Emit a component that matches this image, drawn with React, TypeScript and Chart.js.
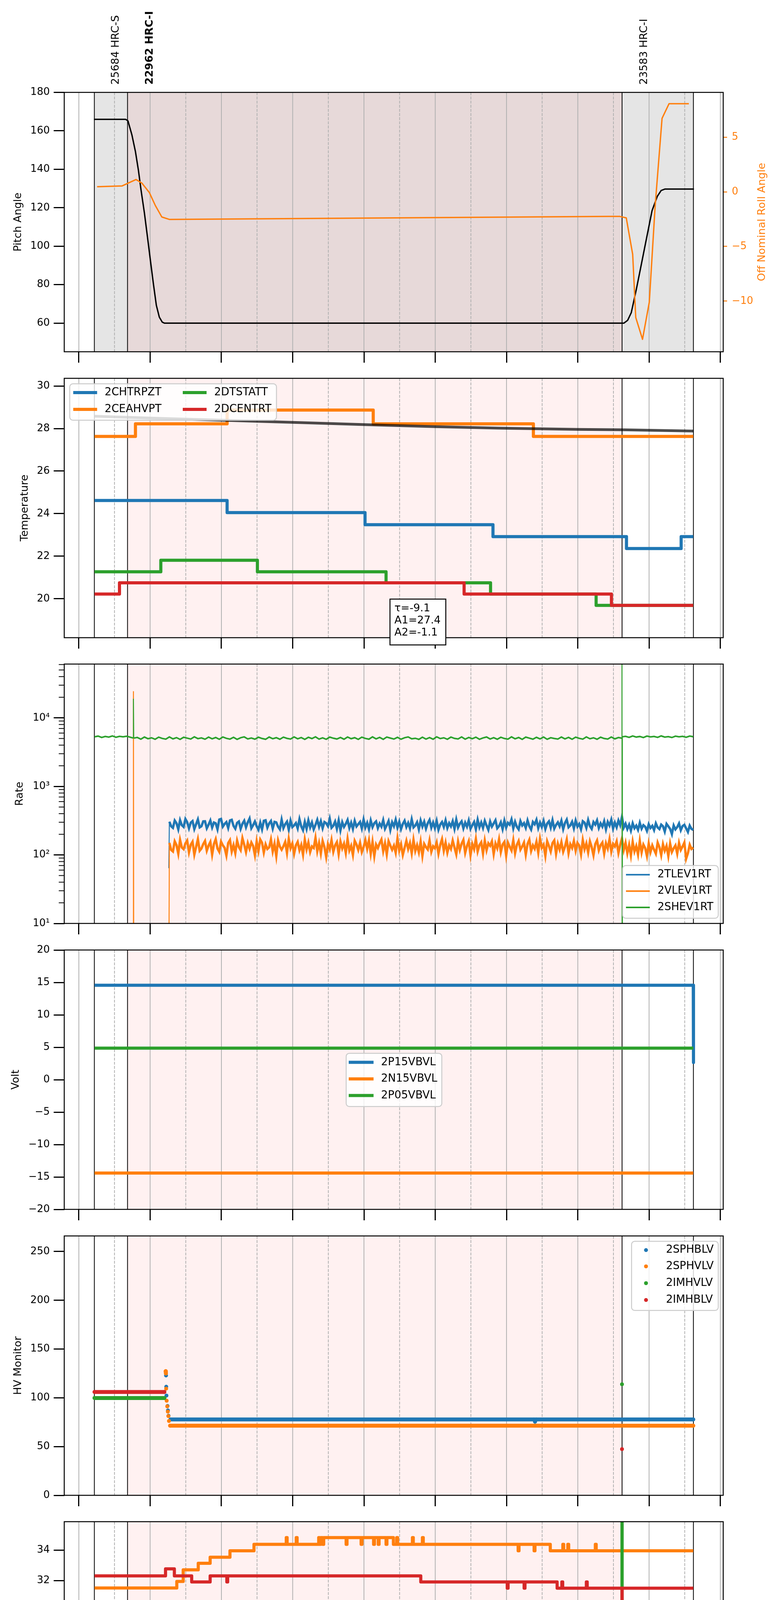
import React, { useEffect, useRef } from 'react';
import { Chart, registerables } from 'chart.js';

Chart.register(...registerables);

type Pt = [number, number | null];

const FONT = "'DejaVu Sans', sans-serif";
const C_BLUE = '#1f77b4';
const C_ORANGE = '#ff7f0e';
const C_GREEN = '#2ca02c';
const C_RED = '#d62728';

// ---------------- time axis (hours of 2021-08-17) ----------------
const X_MIN = 12.795;
const X_MAX = 22.04;
const HOUR_TICKS = [13, 14, 15, 16, 17, 18, 19, 20, 21, 22];
const HALF_TICKS = [13.5, 14.5, 15.5, 16.5, 17.5, 18.5, 19.5, 20.5, 21.5];
const HALF_LABEL = '30';
const X_TITLE = '2021-08-17 (229)';
const EVENT_T = [13.2175, 13.683, 20.621, 21.622];
const OBSID_LABELS = ['25684 HRC-S', '22962 HRC-I', '23583 HRC-I'];
const OBSID_T = [13.522, 13.999, 20.932];

// ---------------- panel 1: pitch / roll ----------------
const PITCH_TICKS = [60, 80, 100, 120, 140, 160, 180];
const ROLL_TICKS = [-10, -5, 0, 5];
const PITCH_ANGLE: Pt[] = [
  [13.212, 166], [13.656, 166], [13.689, 165.2], [13.745, 157.8], [13.794, 149.2], [13.836, 139.4],
  [13.871, 129.6], [13.92, 117.2], [13.962, 105], [14.004, 92.6], [14.046, 80.4], [14.087, 69.3],
  [14.129, 63.1], [14.17, 60.5], [14.199, 60], [20.648, 60], [20.7, 61.5], [20.75, 65.4],
  [20.823, 77.9], [20.896, 91.4], [20.969, 105], [21.042, 118.5], [21.115, 125.9], [21.17, 129],
  [21.22, 129.7], [21.63, 129.7],
];
const ROLL_ANGLE: Pt[] = [
  [13.256, 0.47], [13.605, 0.54], [13.801, 1.13], [13.885, 0.8], [13.99, -0.07], [14.073, -1.25],
  [14.164, -2.3], [14.269, -2.52], [20.43, -2.25], [20.59, -2.25], [20.68, -2.38], [20.77, -5.72],
  [20.813, -11.5], [20.908, -13.5], [21.003, -10.1], [21.085, -1.3], [21.182, 6.73], [21.28, 8.07],
  [21.558, 8.07],
];

// ---------------- panel 2: temperature ----------------
const TEMP_TICKS = [20, 22, 24, 26, 28, 30];
const T_2CHTRPZT: Pt[] = [[13.22, 24.62], [15.08, 24.05], [17.015, 23.48], [18.81, 22.92], [20.683, 22.36], [21.45, 22.92], [21.62, 22.92]];
const T_2CEAHVPT: Pt[] = [[13.22, 27.63], [13.794, 28.22], [15.08, 28.87], [17.13, 28.22], [19.377, 27.63], [21.62, 27.63]];
const T_2DTSTATT: Pt[] = [[13.22, 21.27], [14.15, 21.81], [15.505, 21.27], [17.31, 20.75], [18.776, 20.22], [20.257, 19.69], [21.62, 19.69]];
const T_2DCENTRT: Pt[] = [[13.22, 20.22], [13.57, 20.75], [18.405, 20.22], [20.472, 19.69], [21.62, 19.69]];
const T_FIT: Pt[] = [
  [13.22, 28.58], [14.0, 28.49], [15.0, 28.39], [15.4, 28.35], [16.0, 28.29], [17.14, 28.17],
  [18.0, 28.09], [18.88, 28.02], [20.0, 27.96], [20.63, 27.94], [21.62, 27.88],
];
const FIT_TEXT = ['τ=-9.1', 'A1=27.4', 'A2=-1.1'];

// ---------------- panel 3: rates ----------------
const RATE_TICKS = [10, 100, 1000, 10000];
const RATE_TICK_LABELS = ['10¹', '10²', '10³', '10⁴'];
const RATE_T = [
  14.27, 14.295, 14.32, 14.345, 14.37, 14.395, 14.42, 14.445, 14.47, 14.495, 14.52, 14.545, 14.57, 14.595, 14.62, 14.645, 14.67, 14.695, 14.72, 14.745,
  14.77, 14.795, 14.82, 14.845, 14.87, 14.895, 14.92, 14.945, 14.97, 14.995, 15.02, 15.045, 15.07, 15.095, 15.12, 15.145, 15.17, 15.195, 15.22, 15.245,
  15.27, 15.295, 15.32, 15.345, 15.37, 15.395, 15.42, 15.445, 15.47, 15.495, 15.52, 15.545, 15.57, 15.595, 15.62, 15.645, 15.67, 15.695, 15.72, 15.745,
  15.77, 15.795, 15.82, 15.845, 15.87, 15.895, 15.92, 15.945, 15.97, 15.995, 16.02, 16.045, 16.07, 16.095, 16.12, 16.145, 16.17, 16.195, 16.22, 16.245,
  16.27, 16.295, 16.32, 16.345, 16.37, 16.395, 16.42, 16.445, 16.47, 16.495, 16.52, 16.545, 16.57, 16.595, 16.62, 16.645, 16.67, 16.695, 16.72, 16.745,
  16.77, 16.795, 16.82, 16.845, 16.87, 16.895, 16.92, 16.945, 16.97, 16.995, 17.02, 17.045, 17.07, 17.095, 17.12, 17.145, 17.17, 17.195, 17.22, 17.245,
  17.27, 17.295, 17.32, 17.345, 17.37, 17.395, 17.42, 17.445, 17.47, 17.495, 17.52, 17.545, 17.57, 17.595, 17.62, 17.645, 17.67, 17.695, 17.72, 17.745,
  17.77, 17.795, 17.82, 17.845, 17.87, 17.895, 17.92, 17.945, 17.97, 17.995, 18.02, 18.045, 18.07, 18.095, 18.12, 18.145, 18.17, 18.195, 18.22, 18.245,
  18.27, 18.295, 18.32, 18.345, 18.37, 18.395, 18.42, 18.445, 18.47, 18.495, 18.52, 18.545, 18.57, 18.595, 18.62, 18.645, 18.67, 18.695, 18.72, 18.745,
  18.77, 18.795, 18.82, 18.845, 18.87, 18.895, 18.92, 18.945, 18.97, 18.995, 19.02, 19.045, 19.07, 19.095, 19.12, 19.145, 19.17, 19.195, 19.22, 19.245,
  19.27, 19.295, 19.32, 19.345, 19.37, 19.395, 19.42, 19.445, 19.47, 19.495, 19.52, 19.545, 19.57, 19.595, 19.62, 19.645, 19.67, 19.695, 19.72, 19.745,
  19.77, 19.795, 19.82, 19.845, 19.87, 19.895, 19.92, 19.945, 19.97, 19.995, 20.02, 20.045, 20.07, 20.095, 20.12, 20.145, 20.17, 20.195, 20.22, 20.245,
  20.27, 20.295, 20.32, 20.345, 20.37, 20.395, 20.42, 20.445, 20.47, 20.495, 20.52, 20.545, 20.57, 20.595, 20.62, 20.645, 20.67, 20.695, 20.72, 20.745,
  20.77, 20.795, 20.82, 20.845, 20.87, 20.895, 20.92, 20.945, 20.97, 20.995, 21.02, 21.045, 21.07, 21.095, 21.12, 21.145, 21.17, 21.195, 21.22, 21.245,
  21.27, 21.295, 21.32, 21.345, 21.37, 21.395, 21.42, 21.445, 21.47, 21.495, 21.52, 21.545, 21.57, 21.595, 21.62,
];
const RATE_2TLEV1RT = [
  305, 262, 248, 318, 290, 236, 322, 271, 256, 335, 301, 244, 296, 312, 238, 281, 330, 252, 262, 309,
  310, 244, 276, 318, 251, 297, 289, 236, 328, 335, 259, 284, 302, 247, 319, 326, 265, 241, 294, 308,
  240, 286, 316, 253, 299, 340, 245, 272, 308, 262, 233, 297, 236, 315, 321, 250, 288, 313, 242, 304,
  299, 258, 236, 328, 246, 281, 306, 233, 317, 255, 270, 292, 244, 333, 261, 229, 304, 240, 320, 252,
  298, 236, 275, 326, 257, 311, 245, 302, 290, 262, 338, 249, 267, 307, 241, 319, 228, 301, 256, 284,
  324, 247, 296, 239, 315, 260, 281, 303, 243, 329, 251, 294, 237, 318, 254, 290, 309, 246, 287, 258,
  322, 240, 272, 313, 231, 300, 262, 327, 249, 305, 238, 283, 316, 255, 293, 244, 331, 252, 268, 300,
  236, 318, 259, 306, 242, 290, 325, 250, 297, 245, 314, 233, 278, 302, 256, 320, 247, 291, 261, 311,
  240, 328, 251, 285, 309, 244, 296, 258, 319, 241, 272, 303, 237, 326, 253, 298, 247, 315, 268, 232,
  307, 259, 288, 321, 245, 263, 300, 238, 317, 251, 294, 276, 330, 243, 305, 257, 236, 312, 269, 291,
  248, 319, 262, 234, 303, 280, 326, 246, 297, 255, 314, 239, 287, 309, 250, 322, 242, 274, 299, 261,
  316, 237, 292, 328, 253, 270, 305, 244, 318, 259, 283, 236, 311, 296, 248, 324, 263, 240, 302, 277,
  320, 247, 289, 258, 311, 236, 304, 268, 327, 242, 296, 253, 318, 271, 360, 250, 285, 238, 276, 226,
  290, 245, 268, 232, 295, 241, 272, 258, 224, 281, 247, 266, 230, 289, 252, 238, 277, 262, 219, 284,
  262, 240, 201, 270, 236, 255, 288, 229, 264, 275, 244, 216, 268, 240, 231,
];
const RATE_2VLEV1RT = [
  150, 118, 112, 158, 139, 104, 166, 128, 121, 147, 162, 109, 141, 156, 101, 131, 170, 115, 124, 144,
  160, 115, 137, 155, 101, 144, 170, 124, 111, 156, 138, 127, 98, 149, 165, 112, 139, 106, 162, 130,
  117, 176, 141, 110, 149, 123, 152, 135, 99, 158, 114, 168, 151, 108, 143, 122, 129, 168, 112, 146,
  96, 163, 132, 119, 134, 155, 107, 172, 125, 147, 104, 138, 155, 117, 140, 101, 167, 120, 152, 110,
  133, 126, 178, 113, 149, 105, 160, 131, 93, 144, 121, 165, 111, 138, 154, 103, 157, 124, 146, 107,
  171, 116, 136, 100, 161, 142, 118, 150, 110, 130, 165, 123, 164, 104, 155, 96, 142, 126, 148, 168,
  113, 148, 102, 159, 137, 119, 137, 108, 174, 116, 143, 100, 127, 161, 122, 149, 106, 166, 114, 139,
  109, 156, 97, 145, 130, 120, 163, 111, 134, 125, 152, 104, 140, 170, 115, 151, 108, 138, 122, 162,
  128, 102, 157, 118, 146, 166, 107, 135, 159, 99, 144, 121, 171, 112, 139, 153, 105, 162, 117, 148,
  136, 158, 103, 147, 125, 169, 110, 142, 155, 98, 151, 131, 116, 164, 106, 140, 160, 119, 133, 152,
  101, 145, 167, 114, 138, 123, 156, 108, 172, 127, 141, 97, 159, 135, 112, 149, 163, 104, 146, 120,
  154, 111, 132, 168, 106, 143, 126, 160, 115, 150, 137, 102, 165, 121, 147, 109, 158, 130, 99, 144,
  163, 117, 139, 152, 105, 148, 124, 170, 112, 145, 133, 158, 107, 140, 174, 118, 150, 105, 140, 98,
  156, 112, 135, 101, 161, 108, 142, 126, 96, 147, 110, 138, 119, 104, 152, 130, 99, 144, 115, 136,
  96, 147, 110, 125, 138, 104, 150, 118, 133, 152, 88, 106, 141, 122, 128,
];
const TLEV_LEAD: Pt[] = [[14.262, 64]];
const VLEV_LEAD: Pt[] = [[13.762, 1], [13.766, 24500], [13.77, 1], [14.262, 1]];
const SHEV_T = [
  13.22, 13.27, 13.32, 13.37, 13.42, 13.47, 13.52, 13.57, 13.62, 13.67,
  13.69, 13.762, 13.766, 13.77,
  13.82, 13.87, 13.92, 13.97, 14.02, 14.07, 14.12, 14.17, 14.22, 14.27, 14.32, 14.37, 14.42, 14.47, 14.52, 14.57, 14.62, 14.67, 14.72, 14.77,
  14.82, 14.87, 14.92, 14.97, 15.02, 15.07, 15.12, 15.17, 15.22, 15.27, 15.32, 15.37, 15.42, 15.47, 15.52, 15.57, 15.62, 15.67, 15.72, 15.77,
  15.82, 15.87, 15.92, 15.97, 16.02, 16.07, 16.12, 16.17, 16.22, 16.27, 16.32, 16.37, 16.42, 16.47, 16.52, 16.57, 16.62, 16.67, 16.72, 16.77,
  16.82, 16.87, 16.92, 16.97, 17.02, 17.07, 17.12, 17.17, 17.22, 17.27, 17.32, 17.37, 17.42, 17.47, 17.52, 17.57, 17.62, 17.67, 17.72, 17.77,
  17.82, 17.87, 17.92, 17.97, 18.02, 18.07, 18.12, 18.17, 18.22, 18.27, 18.32, 18.37, 18.42, 18.47, 18.52, 18.57, 18.62, 18.67, 18.72, 18.77,
  18.82, 18.87, 18.92, 18.97, 19.02, 19.07, 19.12, 19.17, 19.22, 19.27, 19.32, 19.37, 19.42, 19.47, 19.52, 19.57, 19.62, 19.67, 19.72, 19.77,
  19.82, 19.87, 19.92, 19.97, 20.02, 20.07, 20.12, 20.17, 20.22, 20.27, 20.32, 20.37, 20.42, 20.47, 20.52, 20.57,
  20.618, 20.62, 20.622, 20.625,
  20.67, 20.72, 20.77, 20.82, 20.87, 20.92, 20.97, 21.02, 21.07, 21.12, 21.17, 21.22, 21.27, 21.32, 21.37, 21.42, 21.47, 21.52, 21.57, 21.62,
];
const RATE_2SHEV1RT = [
  5290, 5420, 5180, 5360, 5240, 5450, 5210, 5380, 5300, 5400,
  5330, 5080, 19000, 5060,
  5180, 4890, 5250, 4960, 5120, 4870, 5230, 5010, 4900, 5270, 4940, 5150, 4860, 5210, 5060, 4910, 5290, 4980, 5100, 4880,
  5240, 4950, 5170, 4870, 5260, 5030, 4900, 5200, 4860, 5130, 5280, 4930, 5080, 4890, 5220, 5000, 4870, 5250, 4960, 5140,
  4880, 5230, 5020, 4910, 5270, 4950, 5160, 4860, 5210, 4990, 5290, 4900, 5110, 4870, 5240, 5050, 4920, 5180, 4880, 5260,
  4970, 5140, 4860, 5230, 5010, 4890, 5280, 4940, 5190, 4870, 5250, 5070, 4910, 5200, 4880, 5130, 5270, 4950, 5040, 4860,
  5220, 4900, 5160, 4880, 5290, 4990, 5120, 4870, 5240, 5020, 4930, 5270, 4890, 5180, 4960, 5230, 4870, 5100, 5260, 4920,
  5150, 4880, 5210, 5000, 4900, 5280, 4950, 5170, 4860, 5240, 5060, 4890, 5200, 4930, 5260, 4870, 5130, 5010, 4910, 5250,
  4940, 5190, 4870, 5230, 5030, 4900, 5270, 4960, 5120, 4880, 5220, 5000, 4910, 5260, 4940, 5170,
  5050, 100000, 1, 5300,
  5380, 5190, 5440, 5250, 5350, 5160, 5420, 5280, 5360, 5200, 5450, 5240, 5330, 5170, 5410, 5290, 5370, 5210, 5430, 5310,
];

// ---------------- panel 4: voltages ----------------
const VOLT_TICKS = [-20, -15, -10, -5, 0, 5, 10, 15, 20];
const V_2P15VBVL: Pt[] = [[13.22, 14.57], [21.62, 14.57], [21.623, 2.65]];
const V_2N15VBVL: Pt[] = [[13.22, -14.4], [21.62, -14.4]];
const V_2P05VBVL: Pt[] = [[13.22, 4.87], [21.62, 4.87]];

// ---------------- panel 5: HV monitor ----------------
const HV_TICKS = [0, 50, 100, 150, 200, 250];
const HV_2SPHBLV: Pt[] = [
  [14.223, 122.9], [14.226, 111.4], [14.229, 102.3], [14.244, 91.6], [14.25, 87], [14.258, 81.6],
  [14.286, 77.8], [19.39, 77.8], [19.4, 75.5], [19.41, 77.8], [21.62, 77.8],
];
const HV_2SPHVLV: Pt[] = [
  [14.218, 127.3], [14.221, 125], [14.225, 109.4], [14.232, 97], [14.24, 91.2], [14.248, 85.8],
  [14.256, 81.2], [14.264, 76.2], [14.28, 71.4], [21.62, 71.4],
];
const HV_2IMHVLV: Pt[] = [[13.22, 99.8], [14.2, 99.8], [14.21, null], [20.62, 113.9]];
const HV_2IMHBLV: Pt[] = [[13.22, 106], [14.2, 106], [14.21, null], [20.62, 47.4]];

// ---------------- panel 6: detector temperatures ----------------
const DET_TICKS = [20, 22, 24, 26, 28, 30, 32, 34];
const DET_2SPINATM: Pt[] = [[13.22, 19.63], [14.374, 20.29], [19.823, 19.63], [21.62, 19.63]];
const DET_2SPHVATM: Pt[] = [
  [13.22, 31.51], [14.374, 31.94], [14.464, 32.71], [14.675, 33.14], [14.842, 33.54], [15.12, 33.96],
  [15.457, 34.39], [15.91, 34.83], [15.922, 34.39], [16.05, 34.83], [16.062, 34.39],
  [16.365, 34.83], [16.38, 34.39], [16.395, 34.83], [16.42, 34.39], [16.435, 34.83],
  [16.75, 34.39], [16.762, 34.83], [16.96, 34.39], [16.972, 34.83], [17.135, 34.39], [17.147, 34.83],
  [17.2, 34.39], [17.212, 34.83], [17.31, 34.39], [17.322, 34.83],
  [17.413, 34.39], [17.46, 34.83], [17.472, 34.39], [17.68, 34.83], [17.692, 34.39], [17.82, 34.83], [17.832, 34.39],
  [19.163, 33.96], [19.175, 34.39], [19.387, 33.96], [19.399, 34.39],
  [19.614, 33.96], [19.79, 34.39], [19.802, 33.96], [19.86, 34.39], [19.872, 33.96], [20.246, 34.39], [20.258, 33.96],
  [21.62, 33.96],
];
const DET_2IMINATM: Pt[] = [
  [13.22, 21.01], [14.78, 21.75], [14.792, 21.01], [15.01, 21.75], [15.022, 21.01], [15.935, 21.75], [15.947, 21.01],
  [18.604, 20.29], [20.618, 20.29], [20.62, 40], [20.622, 20.29], [21.0, 19.63], [21.62, 19.63],
];
const DET_2IMHVATM: Pt[] = [
  [13.22, 32.31], [14.216, 32.77], [14.34, 32.31], [14.583, 31.91], [14.842, 32.31], [15.076, 31.91], [15.088, 32.31],
  [17.797, 31.91], [19.01, 31.5], [19.022, 31.91], [19.247, 31.5], [19.259, 31.91], [19.71, 31.5],
  [19.776, 31.91], [19.788, 31.5], [20.12, 31.91], [20.132, 31.5], [20.618, 31.5], [20.62, 10], [20.622, 31.5],
  [21.62, 31.5],
];

// ---------------- panel 7: FEA temperatures ----------------
const FEA_TICKS = [16, 18, 20, 22, 24, 26];
const FEA_2FHTRMZT: Pt[] = [
  [13.22, 24.05], [13.417, 24.62], [14.43, 24.05], [15.457, 23.46], [16.42, 22.91], [17.448, 22.36],
  [18.531, 21.81], [19.775, 21.27], [21.62, 21.27],
];
const FEA_2FRADPYT: Pt[] = [
  [13.22, 19.68], [13.85, 20.2], [13.92, 19.68], [14.276, 19.17], [14.723, 18.67], [15.376, 18.18],
  [16.19, 17.69], [17.123, 17.2], [18.14, 16.72], [19.286, 16.25], [20.58, 15.77], [20.73, 16.25],
  [20.865, 16.72], [20.94, 17.2], [21.15, 16.72], [21.62, 16.72],
];
const FEA_2FEPRATM: Pt[] = [
  [13.22, 25.39], [13.675, 26.16], [14.545, 25.4], [14.557, 26.16], [14.653, 25.39], [16.26, 24.62],
  [17.818, 23.87], [19.565, 23.13], [20.618, 23.13], [20.62, 25.4], [20.622, 23.13], [21.62, 23.13],
];
const FEA_2FE00ATM: Pt[] = [
  [13.22, 23.63], [13.419, 23.95], [14.446, 23.63], [14.551, 24.33], [14.563, 23.63], [14.796, 22.93],
  [14.808, 23.63], [15.061, 24.66], [15.073, 23.63], [15.224, 22.93], [15.236, 23.32], [15.39, 21.98],
  [15.402, 23.32], [15.474, 22.93], [15.486, 23.32], [15.586, 23.68], [15.598, 23.32], [15.858, 23.02],
  [15.87, 23.32], [15.949, 24.0], [15.962, 22.6], [15.974, 22.98], [16.159, 23.34], [16.171, 22.98],
  [16.473, 22.6], [16.485, 22.98], [16.669, 22.65], [16.857, 21.65], [16.869, 22.65], [17.415, 22.34],
  [17.556, 23.68], [17.568, 22.34], [17.892, 21.35], [17.904, 22.34], [18.095, 21.35], [18.107, 22.34],
  [18.22, 22.02], [18.757, 23.02], [18.769, 22.02], [18.905, 21.04], [18.917, 22.02], [19.079, 21.72],
  [19.219, 22.08], [19.231, 21.04], [19.243, 21.72], [19.673, 21.04], [19.685, 21.72], [19.792, 22.7],
  [19.804, 21.72], [19.897, 21.35], [19.909, 21.72], [19.952, 22.08], [19.964, 21.72], [20.0, 21.38],
  [20.105, 21.77], [20.117, 21.04], [20.129, 21.38], [20.267, 22.08], [20.279, 21.04], [20.291, 21.38],
  [20.618, 21.38], [20.62, 14], [20.622, 21.38], [21.62, 21.38],
];

// ---------------- layout constants ----------------
const AX_H = 664;
const PLOT_LEFT = 164.5;
const PLOT_RIGHT = 1852;
const PAGE_W = 2000;

type LegendEntry = { ds: number; y: number; sx0: number; sx1: number; tx: number };
type LegendCfg = { box: [number, number, number, number]; kind: 'line' | 'dot'; lw: number; entries: LegendEntry[] };
type AxisCfg = {
  type?: 'linear' | 'logarithmic';
  min: number; max: number; ticks: number[]; labels?: string[];
  title: string; titleX: number;
};
type PanelCfg = {
  top: number; canvasTop: number; canvasH: number;
  datasets: any[];
  y: AxisCfg; y2?: AxisCfg;
  grayBand?: boolean; obsids?: boolean; xLabels?: boolean; minorLog?: boolean;
  legend?: LegendCfg;
  fitBox?: boolean;
};

const toXY = (arr: Pt[]) => arr.map(([x, y]) => ({ x, y }));
const zipXY = (ts: number[], vs: number[]) => ts.map((t, i) => ({ x: t, y: vs[i] }));
const fmtNum = (v: number) => (v < 0 ? '\u2212' + Math.abs(v) : String(v));

function lineDs(label: string, color: string, data: any[], extra: any = {}) {
  return {
    label, data, borderColor: color, backgroundColor: color, borderWidth: 8,
    pointRadius: 0, pointHoverRadius: 0, stepped: true, tension: 0, fill: false, clip: 0,
    borderJoinStyle: 'round', borderCapStyle: 'butt', ...extra,
  };
}

function hvDs(label: string, color: string, data: Pt[]) {
  return lineDs(label, color, toXY(data), {
    stepped: false, borderWidth: 10, borderCapStyle: 'round', pointRadius: 5, pointBorderWidth: 0,
    pointBackgroundColor: color, spanGaps: false,
    segment: {
      borderColor: (c: any) => (Math.abs(c.p0.parsed.y - c.p1.parsed.y) > 3 ? 'rgba(0,0,0,0)' : undefined),
    },
  });
}

// noisy rate series: dense noise segments thicker, isolated spikes thin
function rateDs(label: string, color: string, data: any[], noiseW: number) {
  return lineDs(label, color, data, {
    stepped: false, borderWidth: 2.5, borderJoinStyle: 'miter',
    segment: {
      borderWidth: (c: any) => (Math.abs(c.p1.parsed.x - c.p0.parsed.x) < 0.01 ? 2.5 : noiseW),
    },
  });
}

function txt(ctx: CanvasRenderingContext2D, s: string, x: number, y: number, size: number, o: any = {}) {
  ctx.save();
  ctx.font = `${o.bold ? 'bold ' : ''}${size}px ${FONT}`;
  ctx.fillStyle = o.color || '#000';
  ctx.textAlign = o.align || 'left';
  ctx.textBaseline = o.baseline || 'middle';
  ctx.translate(x, y);
  if (o.rot) ctx.rotate(o.rot);
  ctx.fillText(s, 0, 0);
  ctx.restore();
}

function makeDecor(p: PanelCfg) {
  const oy = p.canvasTop;
  return {
    id: 'decor',
    beforeDatasetsDraw(chart: any) {
      const { ctx, chartArea: a } = chart;
      const xs = chart.scales.x;
      const px = (t: number) => xs.getPixelForValue(t);
      const h = a.bottom - a.top;
      ctx.save();
      ctx.beginPath();
      ctx.rect(a.left, a.top, a.right - a.left, h);
      ctx.clip();
      if (p.grayBand) {
        ctx.fillStyle = 'rgba(0,0,0,0.1)';
        ctx.fillRect(px(EVENT_T[0]), a.top, px(EVENT_T[3]) - px(EVENT_T[0]), h);
      }
      ctx.fillStyle = 'rgba(255,0,0,0.055)';
      ctx.fillRect(px(EVENT_T[1]), a.top, px(EVENT_T[2]) - px(EVENT_T[1]), h);
      const vline = (t: number) => {
        const x = px(t);
        ctx.beginPath();
        ctx.moveTo(x, a.top);
        ctx.lineTo(x, a.bottom);
        ctx.stroke();
      };
      ctx.strokeStyle = '#b0b0b0';
      ctx.lineWidth = 2;
      HOUR_TICKS.forEach(vline);
      ctx.setLineDash([7.4, 3.2]);
      HALF_TICKS.forEach(vline);
      ctx.setLineDash([]);
      ctx.strokeStyle = '#000';
      ctx.lineWidth = 2;
      EVENT_T.forEach(vline);
      ctx.restore();
    },
    afterDraw(chart: any) {
      const { ctx, chartArea: a } = chart;
      const xs = chart.scales.x;
      const ys = chart.scales.y;
      ctx.save();
      ctx.strokeStyle = '#000';
      ctx.lineWidth = 2.5;
      ctx.strokeRect(a.left, a.top, a.right - a.left, a.bottom - a.top);
      if (p.minorLog) {
        ctx.lineWidth = 2;
        for (const d of RATE_TICKS) {
          for (let m = 2; m <= 9; m++) {
            const v = m * d;
            if (v > p.y.max) continue;
            const y = ys.getPixelForValue(v);
            ctx.beginPath();
            ctx.moveTo(a.left - 14, y);
            ctx.lineTo(a.left, y);
            ctx.stroke();
          }
        }
      }
      ctx.restore();
      const midY = (a.top + a.bottom) / 2;
      txt(ctx, p.y.title, p.y.titleX, midY, 27, { align: 'center', rot: -Math.PI / 2 });
      if (p.y2) txt(ctx, p.y2.title, p.y2.titleX, midY, 27, { align: 'center', rot: -Math.PI / 2, color: C_ORANGE });
      if (p.obsids) {
        OBSID_LABELS.forEach((s, i) => {
          txt(ctx, s, xs.getPixelForValue(OBSID_T[i]), 216.7 - oy, 27, { rot: -Math.PI / 2, bold: i === 1 });
        });
      }
      if (p.xLabels) {
        HALF_TICKS.forEach((t) => {
          txt(ctx, HALF_LABEL, xs.getPixelForValue(t), 5312 - oy, 18, { align: 'center', baseline: 'alphabetic' });
        });
      }
      if (p.fitBox) {
        ctx.save();
        ctx.fillStyle = '#fff';
        ctx.fillRect(998.7, 1533.7 - oy, 142.9, 117.3);
        ctx.strokeStyle = '#000';
        ctx.lineWidth = 2.5;
        ctx.strokeRect(998.7, 1533.7 - oy, 142.9, 117.3);
        ctx.restore();
        const ly = [1557.6, 1588.7, 1619.9];
        FIT_TEXT.forEach((s, i) => txt(ctx, s, 1010, ly[i] - oy, 27));
      }
      if (p.legend) {
        const L = p.legend;
        const [bx, by, bw, bh] = L.box;
        ctx.save();
        ctx.beginPath();
        (ctx as any).roundRect(bx, by - oy, bw, bh, 8);
        ctx.fillStyle = 'rgba(255,255,255,0.8)';
        ctx.fill();
        ctx.strokeStyle = '#cccccc';
        ctx.lineWidth = 2.5;
        ctx.stroke();
        ctx.restore();
        for (const e of L.entries) {
          const ds = chart.data.datasets[e.ds];
          const y = e.y - oy;
          ctx.save();
          if (L.kind === 'dot') {
            ctx.fillStyle = ds.borderColor;
            ctx.beginPath();
            ctx.arc(e.sx0, y, 5, 0, Math.PI * 2);
            ctx.fill();
          } else {
            ctx.strokeStyle = ds.borderColor;
            ctx.lineWidth = L.lw;
            ctx.beginPath();
            ctx.moveTo(e.sx0, y);
            ctx.lineTo(e.sx1, y);
            ctx.stroke();
          }
          ctx.restore();
          txt(ctx, ds.label, e.tx, y, 27.5);
        }
      }
    },
  };
}

function buildConfig(p: PanelCfg): any {
  const padTop = p.top - p.canvasTop;
  const xAxisH = p.canvasH - padTop - AX_H;
  const yAxis = (c: AxisCfg, pos: 'left' | 'right', color: string, tickLen: number, pad: number, w: number) => ({
    type: c.type || 'linear',
    position: pos,
    min: c.min,
    max: c.max,
    afterBuildTicks: (s: any) => {
      s.ticks = c.ticks.map((v) => ({ value: v }));
    },
    afterFit: (s: any) => {
      s.width = w;
    },
    grid: { drawOnChartArea: false, drawTicks: true, tickLength: tickLen, tickWidth: pos === 'left' ? 3 : 2.5, tickColor: color },
    border: { display: false },
    ticks: {
      color, padding: pad, autoSkip: false, font: { family: FONT, size: 26 },
      callback: (v: number) => {
        const i = c.ticks.indexOf(v);
        return c.labels && i >= 0 ? c.labels[i] : fmtNum(v);
      },
    },
  });
  const scales: any = {
    x: {
      type: 'linear',
      min: X_MIN,
      max: X_MAX,
      afterBuildTicks: (s: any) => {
        s.ticks = HOUR_TICKS.map((v) => ({ value: v }));
      },
      afterFit: (s: any) => {
        s.height = xAxisH;
      },
      grid: { drawOnChartArea: false, drawTicks: true, tickLength: 28, tickWidth: 3, tickColor: '#000' },
      border: { display: false },
      ticks: {
        display: !!p.xLabels, autoSkip: false, maxRotation: 0, minRotation: 0, padding: 6, color: '#000',
        font: { family: FONT, size: 26 },
        callback: (v: number) => `${v}h`,
      },
      title: p.xLabels
        ? { display: true, text: X_TITLE, color: '#000', font: { family: FONT, size: 33 }, padding: { top: 0, bottom: 2 } }
        : { display: false },
    },
    y: yAxis(p.y, 'left', '#000', 27, 10, PLOT_LEFT),
  };
  if (p.y2) scales.y2 = yAxis(p.y2, 'right', C_ORANGE, 10, 12, PAGE_W - PLOT_RIGHT);
  const datasets = p.datasets.map((d, i) => ({ ...d, order: -i }));
  return {
    type: 'line',
    data: { datasets },
    options: {
      responsive: false,
      maintainAspectRatio: false,
      animation: false,
      devicePixelRatio: 1,
      events: [],
      layout: { padding: { top: padTop, left: 0, bottom: 0, right: p.y2 ? 0 : PAGE_W - PLOT_RIGHT } },
      plugins: { legend: { display: false }, tooltip: { enabled: false }, title: { display: false } },
      scales,
    },
    plugins: [makeDecor(p)],
  };
}

const lineEntries = (ys: number[], sx0: number, sx1: number, tx: number, start = 0): LegendEntry[] =>
  ys.map((y, i) => ({ ds: start + i, y, sx0, sx1, tx }));

const PANELS: PanelCfg[] = [
  {
    top: 236.5, canvasTop: 0, canvasH: 931, grayBand: true, obsids: true,
    datasets: [
      lineDs('Pitch', '#000', toXY(PITCH_ANGLE), { stepped: false, borderWidth: 3.5, yAxisID: 'y' }),
      lineDs('Roll', C_ORANGE, toXY(ROLL_ANGLE), { stepped: false, borderWidth: 3.5, yAxisID: 'y2' }),
    ],
    y: { min: 45.1, max: 180, ticks: PITCH_TICKS, title: 'Pitch Angle', titleX: 47 },
    y2: { min: -14.64, max: 9.11, ticks: ROLL_TICKS, title: 'Off Nominal Roll Angle', titleX: 1952 },
  },
  {
    top: 968.5, canvasTop: 929, canvasH: 734, fitBox: true,
    datasets: [
      lineDs('2CHTRPZT', C_BLUE, toXY(T_2CHTRPZT)),
      lineDs('2CEAHVPT', C_ORANGE, toXY(T_2CEAHVPT)),
      lineDs('2DTSTATT', C_GREEN, toXY(T_2DTSTATT)),
      lineDs('2DCENTRT', C_RED, toXY(T_2DCENTRT)),
      lineDs('fit', 'rgba(0,0,0,0.7)', toXY(T_FIT), { stepped: false, borderWidth: 7 }),
    ],
    y: { min: 18.17, max: 30.36, ticks: TEMP_TICKS, title: 'Temperature', titleX: 64 },
    legend: {
      box: [178.6, 982.5, 529.4, 93.3], kind: 'line', lw: 8,
      entries: [
        { ds: 0, y: 1005, sx0: 187.5, sx1: 248.7, tx: 267.9 },
        { ds: 1, y: 1048, sx0: 187.5, sx1: 248.7, tx: 267.9 },
        { ds: 2, y: 1005, sx0: 468, sx1: 529, tx: 548.5 },
        { ds: 3, y: 1048, sx0: 468, sx1: 529, tx: 548.5 },
      ],
    },
  },
  {
    top: 1700, canvasTop: 1660, canvasH: 734, minorLog: true,
    datasets: [
      rateDs('2TLEV1RT', C_BLUE, [...toXY(TLEV_LEAD), ...zipXY(RATE_T, RATE_2TLEV1RT)], 6),
      rateDs('2VLEV1RT', C_ORANGE, [...toXY(VLEV_LEAD), ...zipXY(RATE_T, RATE_2VLEV1RT)], 6),
      rateDs('2SHEV1RT', C_GREEN, zipXY(SHEV_T, RATE_2SHEV1RT), 4),
    ],
    y: { type: 'logarithmic', min: 10, max: 61000, ticks: RATE_TICKS, labels: RATE_TICK_LABELS, title: 'Rate', titleX: 51 },
    legend: { box: [1594.4, 2215.8, 244.9, 134.9], kind: 'line', lw: 4, entries: lineEntries([2239.2, 2281.3, 2323], 1603, 1664, 1683.7) },
  },
  {
    top: 2432, canvasTop: 2392, canvasH: 734,
    datasets: [
      lineDs('2P15VBVL', C_BLUE, toXY(V_2P15VBVL), { stepped: false }),
      lineDs('2N15VBVL', C_ORANGE, toXY(V_2N15VBVL), { stepped: false }),
      lineDs('2P05VBVL', C_GREEN, toXY(V_2P05VBVL), { stepped: false }),
    ],
    y: { min: -20, max: 20, ticks: VOLT_TICKS, title: 'Volt', titleX: 41 },
    legend: { box: [886.5, 2696.4, 244.9, 136.4], kind: 'line', lw: 8, entries: lineEntries([2719.4, 2762, 2804.5], 893, 956.6, 975.8) },
  },
  {
    top: 3164, canvasTop: 3124, canvasH: 734,
    datasets: [
      hvDs('2SPHBLV', C_BLUE, HV_2SPHBLV),
      hvDs('2SPHVLV', C_ORANGE, HV_2SPHVLV),
      hvDs('2IMHVLV', C_GREEN, HV_2IMHVLV),
      hvDs('2IMHBLV', C_RED, HV_2IMHBLV),
    ],
    y: { min: 0, max: 266, ticks: HV_TICKS, title: 'HV Monitor', titleX: 47 },
    legend: { box: [1617.3, 3177.8, 222, 177], kind: 'dot', lw: 0, entries: lineEntries([3200.2, 3241.9, 3284.9, 3328], 1654.3, 1654.3, 1705.4) },
  },
  {
    top: 3895.5, canvasTop: 3856, canvasH: 734,
    datasets: [
      lineDs('2SPINATM', C_BLUE, toXY(DET_2SPINATM)),
      lineDs('2SPHVATM', C_ORANGE, toXY(DET_2SPHVATM)),
      lineDs('2IMINATM', C_GREEN, toXY(DET_2IMINATM)),
      lineDs('2IMHVATM', C_RED, toXY(DET_2IMHVATM)),
    ],
    y: { min: 18.79, max: 35.88, ticks: DET_TICKS, title: 'Detector Temp', titleX: 64 },
    legend: { box: [886.5, 4140.8, 246.2, 174.6], kind: 'line', lw: 8, entries: lineEntries([4163.3, 4205.4, 4247.5, 4289.5], 893, 956.6, 975.8) },
  },
  {
    top: 4627, canvasTop: 4587, canvasH: 813, xLabels: true,
    datasets: [
      lineDs('2FHTRMZT', C_BLUE, toXY(FEA_2FHTRMZT)),
      lineDs('2FRADPYT', C_ORANGE, toXY(FEA_2FRADPYT)),
      lineDs('2FEPRATM', C_GREEN, toXY(FEA_2FEPRATM)),
      lineDs('2FE00ATM', C_RED, toXY(FEA_2FE00ATM)),
    ],
    y: { min: 15.23, max: 26.85, ticks: FEA_TICKS, title: 'FEA Temp', titleX: 64 },
    legend: { box: [180, 5100.7, 250.5, 176.3], kind: 'line', lw: 8, entries: lineEntries([5125, 5166, 5207.3, 5250], 186.2, 250, 267.9) },
  },
];

function Panel({ cfg }: { cfg: PanelCfg }) {
  const ref = useRef<HTMLCanvasElement>(null);
  useEffect(() => {
    if (!ref.current) return;
    const chart = new Chart(ref.current, buildConfig(cfg));
    return () => chart.destroy();
  }, [cfg]);
  return (
    <canvas
      ref={ref}
      width={PAGE_W}
      height={cfg.canvasH}
      style={{ position: 'absolute', left: 0, top: cfg.canvasTop, width: `${PAGE_W}px`, height: `${cfg.canvasH}px` }}
    />
  );
}

export default function App() {
  return (
    <div style={{ position: 'absolute', left: 0, top: 0, width: PAGE_W, height: 5400, background: '#fff', overflow: 'hidden' }}>
      {PANELS.map((p, i) => (
        <Panel key={i} cfg={p} />
      ))}
    </div>
  );
}
